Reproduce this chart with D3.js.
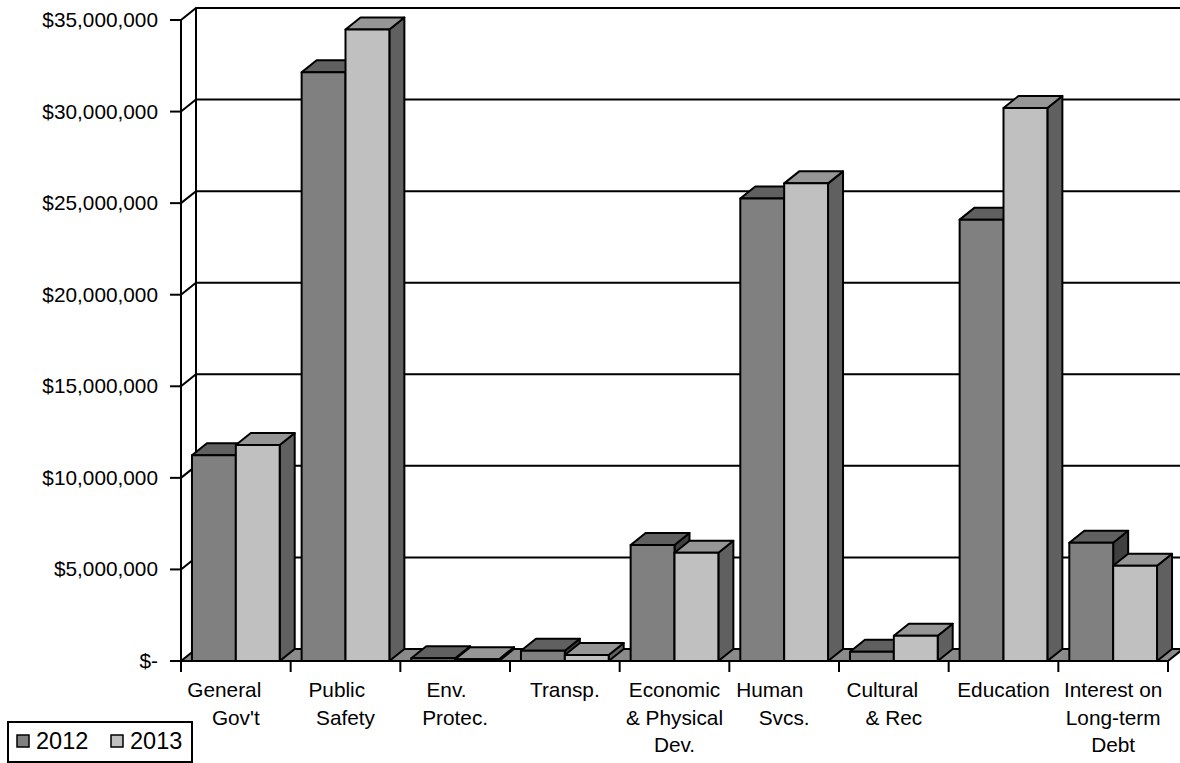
<!DOCTYPE html>
<meta charset="utf-8">
<title>Expenditures 2012 vs 2013</title>
<body>
<script src="https://cdn.jsdelivr.net/npm/d3@7/dist/d3.min.js"></script>
<style>
html, body {
    margin: 0;
    background: #fff;
}
svg {
    display: block;
    font-family: "Liberation Sans", Arial, sans-serif;
}
.cat text {
    white-space: pre;
}
</style>
<script>
// chart values
var categories = ["General Gov't", "Public Safety", "Env. Protec.", "Transp.",
    "Economic & Physical Dev.", "Human Svcs.", "Cultural & Rec", "Education",
    "Interest on Long-term Debt"];

// how the category labels wrap (trailing spaces kept, like the original)
var categoryLines = [
    ["General    ", "Gov't"],
    ["Public   ", "Safety"],
    ["Env.   ", "Protec."],
    ["Transp."],
    ["Economic", "& Physical", "Dev."],
    ["Human     ", "Svcs."],
    ["Cultural    ", "& Rec"],
    ["Education"],
    ["Interest on", "Long-term", "Debt"]
];

var series = ["2012", "2013"];

var values2012 = [11230000, 32150000, 150000, 560000, 6330000, 25250000, 510000, 24100000, 6460000];
var values2013 = [11790000, 34480000, 100000, 330000, 5910000, 26080000, 1380000, 30200000, 5200000];

var yTicks = [0, 5000000, 10000000, 15000000, 20000000, 25000000, 30000000, 35000000];

var width = 1180,
    height = 763,
    plotLeft = 181,
    plotRight = 1168,
    plotBottom = 661,
    plotTop = 20,
    ddx = 15,   // depth of the 3d box
    ddy = 12;

var colors = {
    "2012": { front: "#808080", top: "#606060", side: "#404040" },
    "2013": { front: "#c0c0c0", top: "#969696", side: "#606060" }
};

var svg = d3.select("body").append("svg")
    .attr("width", width)
    .attr("height", height);

var y = d3.scaleLinear()
    .domain([0, 35000000])
    .range([plotBottom, plotTop]);

var x0 = d3.scaleBand()
    .domain(categories)
    .range([plotLeft, plotRight])
    .padding(0);

var x1 = d3.scaleBand()
    .domain(series)
    .range([0, x0.bandwidth()])
    .paddingInner(0)
    .paddingOuter(0.25);

var fmt = d3.format(",");
function money(v) { return v === 0 ? "$-" : "$" + fmt(v); }

// walls: side wall diagonals and back wall gridlines
var grid = svg.append("g")
    .attr("fill", "none")
    .attr("stroke", "#000")
    .attr("stroke-width", 2);

grid.selectAll("path.grid")
    .data(yTicks.filter(function(t) { return t > 0; }))
    .enter().append("path")
    .attr("class", "grid")
    .attr("d", function(t) {
        var yy = y(t);
        return "M" + plotLeft + "," + yy + "L" + (plotLeft + ddx) + "," + (yy - ddy) + "L" + (plotRight + ddx) + "," + (yy - ddy);
    });

// back wall left edge
grid.append("line")
    .attr("x1", plotLeft + ddx).attr("x2", plotLeft + ddx)
    .attr("y1", y(35000000) - ddy).attr("y2", plotBottom - ddy);

// floor
svg.append("path")
    .attr("d", "M" + plotLeft + "," + plotBottom + "L" + plotRight + "," + plotBottom +
        "L" + (plotRight + ddx) + "," + (plotBottom - ddy) + "L" + (plotLeft + ddx) + "," + (plotBottom - ddy) + "Z")
    .attr("fill", "#8a8a8a")
    .attr("stroke", "#000")
    .attr("stroke-width", 2)
    .attr("stroke-linejoin", "round");

// bars
var rows = [];
categories.forEach(function(c, i) {
    rows.push({ cat: c, key: "2012", value: values2012[i] });
    rows.push({ cat: c, key: "2013", value: values2013[i] });
});

var bars = svg.selectAll("g.bar")
    .data(rows)
    .enter().append("g")
    .attr("class", "bar")
    .attr("stroke", "#000")
    .attr("stroke-width", 2)
    .attr("stroke-linejoin", "round");

bars.each(function(d) {
    var g = d3.select(this),
        bx = x0(d.cat) + x1(d.key),
        bw = x1.bandwidth(),
        yv = y(d.value),
        col = colors[d.key];

    g.append("path")
        .attr("fill", col.side)
        .attr("d", "M" + (bx + bw) + "," + yv + "L" + (bx + bw + ddx) + "," + (yv - ddy) +
            "L" + (bx + bw + ddx) + "," + (plotBottom - ddy) + "L" + (bx + bw) + "," + plotBottom + "Z");

    g.append("path")
        .attr("fill", col.top)
        .attr("d", "M" + bx + "," + yv + "L" + (bx + ddx) + "," + (yv - ddy) +
            "L" + (bx + bw + ddx) + "," + (yv - ddy) + "L" + (bx + bw) + "," + yv + "Z");

    g.append("rect")
        .attr("fill", col.front)
        .attr("x", bx)
        .attr("y", yv)
        .attr("width", bw)
        .attr("height", plotBottom - yv);
});

// front axis lines
var axes = svg.append("g")
    .attr("stroke", "#000")
    .attr("stroke-width", 2);

axes.append("line")
    .attr("x1", plotLeft).attr("x2", plotLeft)
    .attr("y1", plotTop).attr("y2", plotBottom + 11);

axes.append("line")
    .attr("x1", plotLeft - 11).attr("x2", plotRight)
    .attr("y1", plotBottom).attr("y2", plotBottom);

axes.selectAll("line.ytick")
    .data(yTicks)
    .enter().append("line")
    .attr("class", "ytick")
    .attr("x1", plotLeft - 11).attr("x2", plotLeft)
    .attr("y1", y).attr("y2", y);

var bounds = categories.map(function(c) { return x0(c); }).concat([plotRight]);

axes.selectAll("line.xtick")
    .data(bounds)
    .enter().append("line")
    .attr("class", "xtick")
    .attr("x1", function(d) { return d; }).attr("x2", function(d) { return d; })
    .attr("y1", plotBottom).attr("y2", plotBottom + 11);

// y labels
svg.append("g")
    .selectAll("text")
    .data(yTicks)
    .enter().append("text")
    .attr("x", 158)
    .attr("y", function(t) { return y(t) + 7; })
    .attr("text-anchor", "end")
    .attr("font-size", 20.8)
    .attr("fill", "#000")
    .text(money);

// category labels
var cat = svg.append("g")
    .attr("class", "cat")
    .selectAll("text")
    .data(categories)
    .enter().append("text")
    .attr("text-anchor", "middle")
    .attr("font-size", 20.8)
    .attr("fill", "#000")
    .attr("xml:space", "preserve");

cat.each(function(c, i) {
    var t = d3.select(this),
        cx = x0(c) + x0.bandwidth() / 2;
    categoryLines[i].forEach(function(line, j) {
        t.append("tspan")
            .attr("x", cx)
            .attr("y", 697 + j * 27.5)
            .text(line);
    });
});

// legend
var legend = svg.append("g");

legend.append("rect")
    .attr("x", 8).attr("y", 722)
    .attr("width", 184).attr("height", 40)
    .attr("fill", "#fff")
    .attr("stroke", "#000")
    .attr("stroke-width", 2);

var item = legend.selectAll("g.item")
    .data(series)
    .enter().append("g")
    .attr("class", "item")
    .attr("transform", function(d, i) { return "translate(" + (17 + i * 94) + ",735)"; });

item.append("rect")
    .attr("width", 12).attr("height", 12)
    .attr("fill", function(d) { return colors[d].front; })
    .attr("stroke", "#000")
    .attr("stroke-width", 1.5);

item.append("text")
    .attr("x", 19)
    .attr("y", 14)
    .attr("font-size", 23.5)
    .attr("fill", "#000")
    .text(function(d) { return d; });
</script>
